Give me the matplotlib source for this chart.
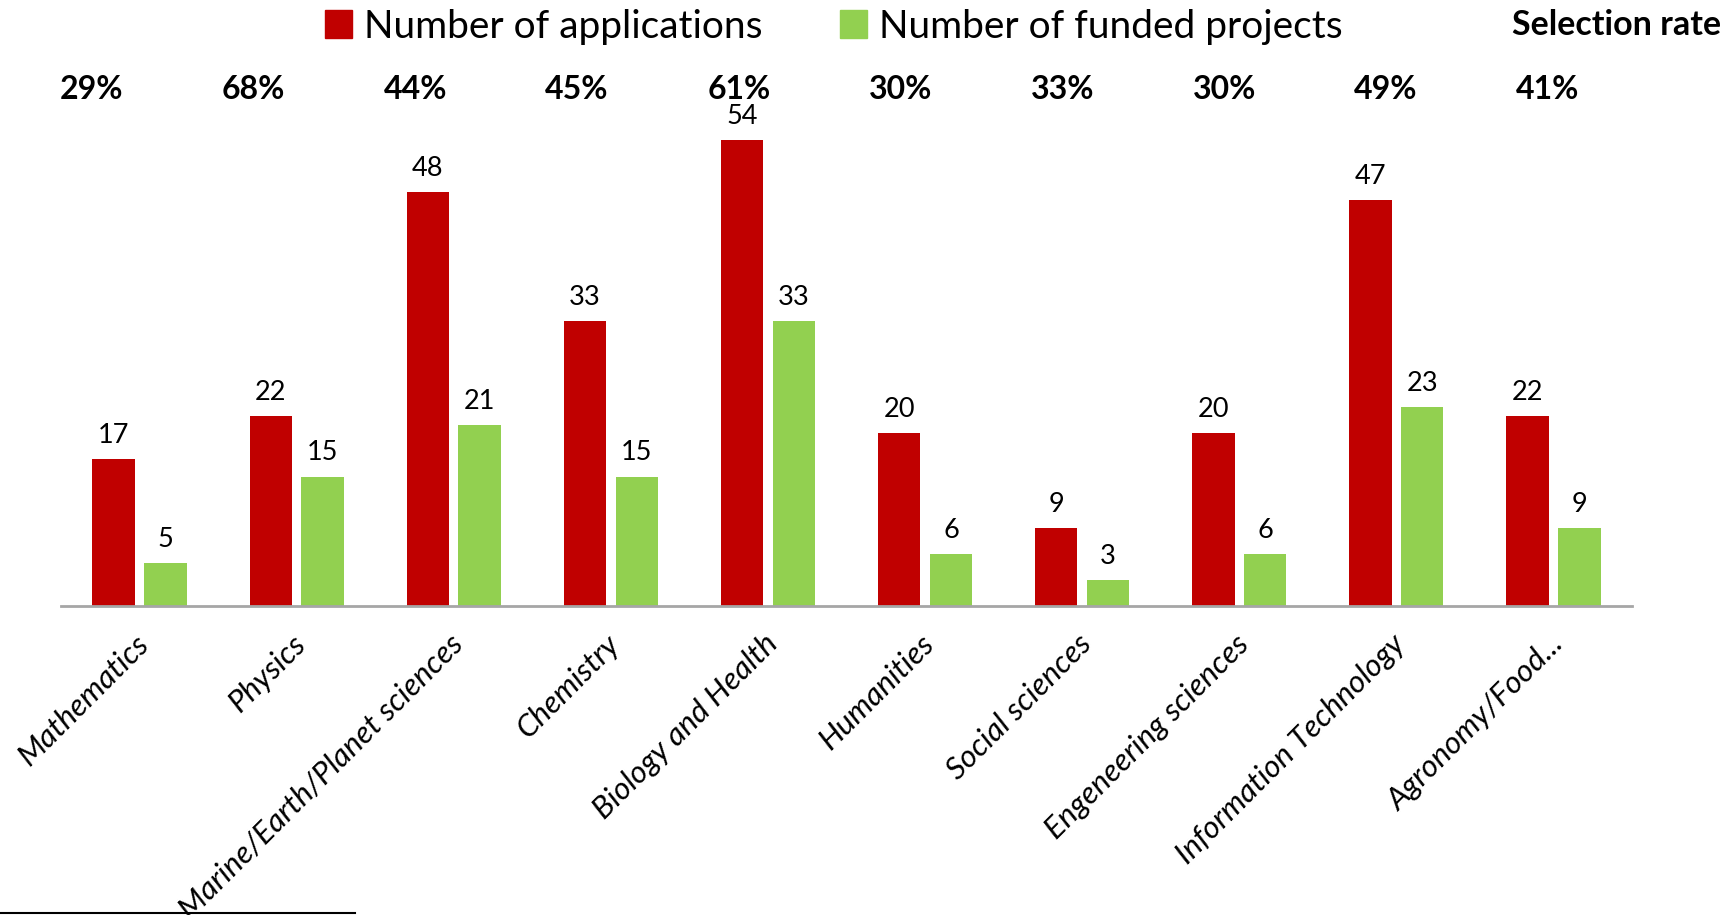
import matplotlib.pyplot as plt
import matplotlib.transforms as mtransforms
from matplotlib.patches import Patch
from matplotlib.lines import Line2D
import numpy as np

plt.rcParams['font.family'] = ['Lato', 'DejaVu Sans']

categories = ['Mathematics', 'Physics', 'Marine/Earth/Planet sciences', 'Chemistry',
              'Biology and Health', 'Humanities', 'Social sciences',
              'Engeneering sciences', 'Information Technology', 'Agronomy/Food...']
applications = [17, 22, 48, 33, 54, 20, 9, 20, 47, 22]
funded = [5, 15, 21, 15, 33, 6, 3, 6, 23, 9]
selection_rate = ['29%', '68%', '44%', '45%', '61%', '30%', '33%', '30%', '49%', '41%']

red = '#C00000'
green = '#92D050'

fig = plt.figure(figsize=(17.33, 9.15), dpi=100)
ax = fig.add_axes([0.0352, 0.3377, 0.9065, 0.566])

x = np.arange(len(categories))
w = 0.27
off = 0.165
b1 = ax.bar(x - off, applications, w, color=red)
b2 = ax.bar(x + off, funded, w, color=green)

for bars, vals in ((b1, applications), (b2, funded)):
    for b, v in zip(bars, vals):
        ax.annotate(str(v), (b.get_x() + b.get_width() / 2, b.get_height()),
                    xytext=(0, 8), textcoords='offset points',
                    ha='center', va='bottom', fontsize=19.5)

ax.set_xlim(-0.5, len(categories) - 0.5)
ax.set_ylim(0, 60)
ax.set_yticks([])
for s in ('left', 'right', 'top'):
    ax.spines[s].set_visible(False)
ax.spines['bottom'].set_color('#A6A6A6')
ax.spines['bottom'].set_linewidth(2)

ax.set_xticks(x + 0.03)
ax.set_xticklabels(categories, rotation=45, ha='right', va='center',
                   rotation_mode='anchor', fontsize=22.5, style='italic')
ax.tick_params(axis='x', length=0, pad=24)

# selection rate row above the bars
trans = mtransforms.blended_transform_factory(ax.transData, fig.transFigure)
for i, r in enumerate(selection_rate):
    ax.text(-0.305 + 1.03 * i, 0.902, r, transform=trans, ha='center', va='center',
            fontsize=23, fontweight='bold')
fig.text(0.993, 0.973, 'Selection rate', ha='right', va='center',
         fontsize=24.5, fontweight='bold')

handles = [Patch(color=red), Patch(color=green)]
fig.legend(handles, ['Number of applications', 'Number of funded projects'],
           loc='center', bbox_to_anchor=(0.481, 0.971), ncol=2, frameon=False,
           fontsize=28, handlelength=0.7, handleheight=0.7, handletextpad=0.3,
           columnspacing=2.0)

# footnote separator line
fig.add_artist(Line2D([0, 0.205], [0.002, 0.002], color='black', lw=1.5,
                      transform=fig.transFigure))

fig.savefig('out.png', dpi=100)
